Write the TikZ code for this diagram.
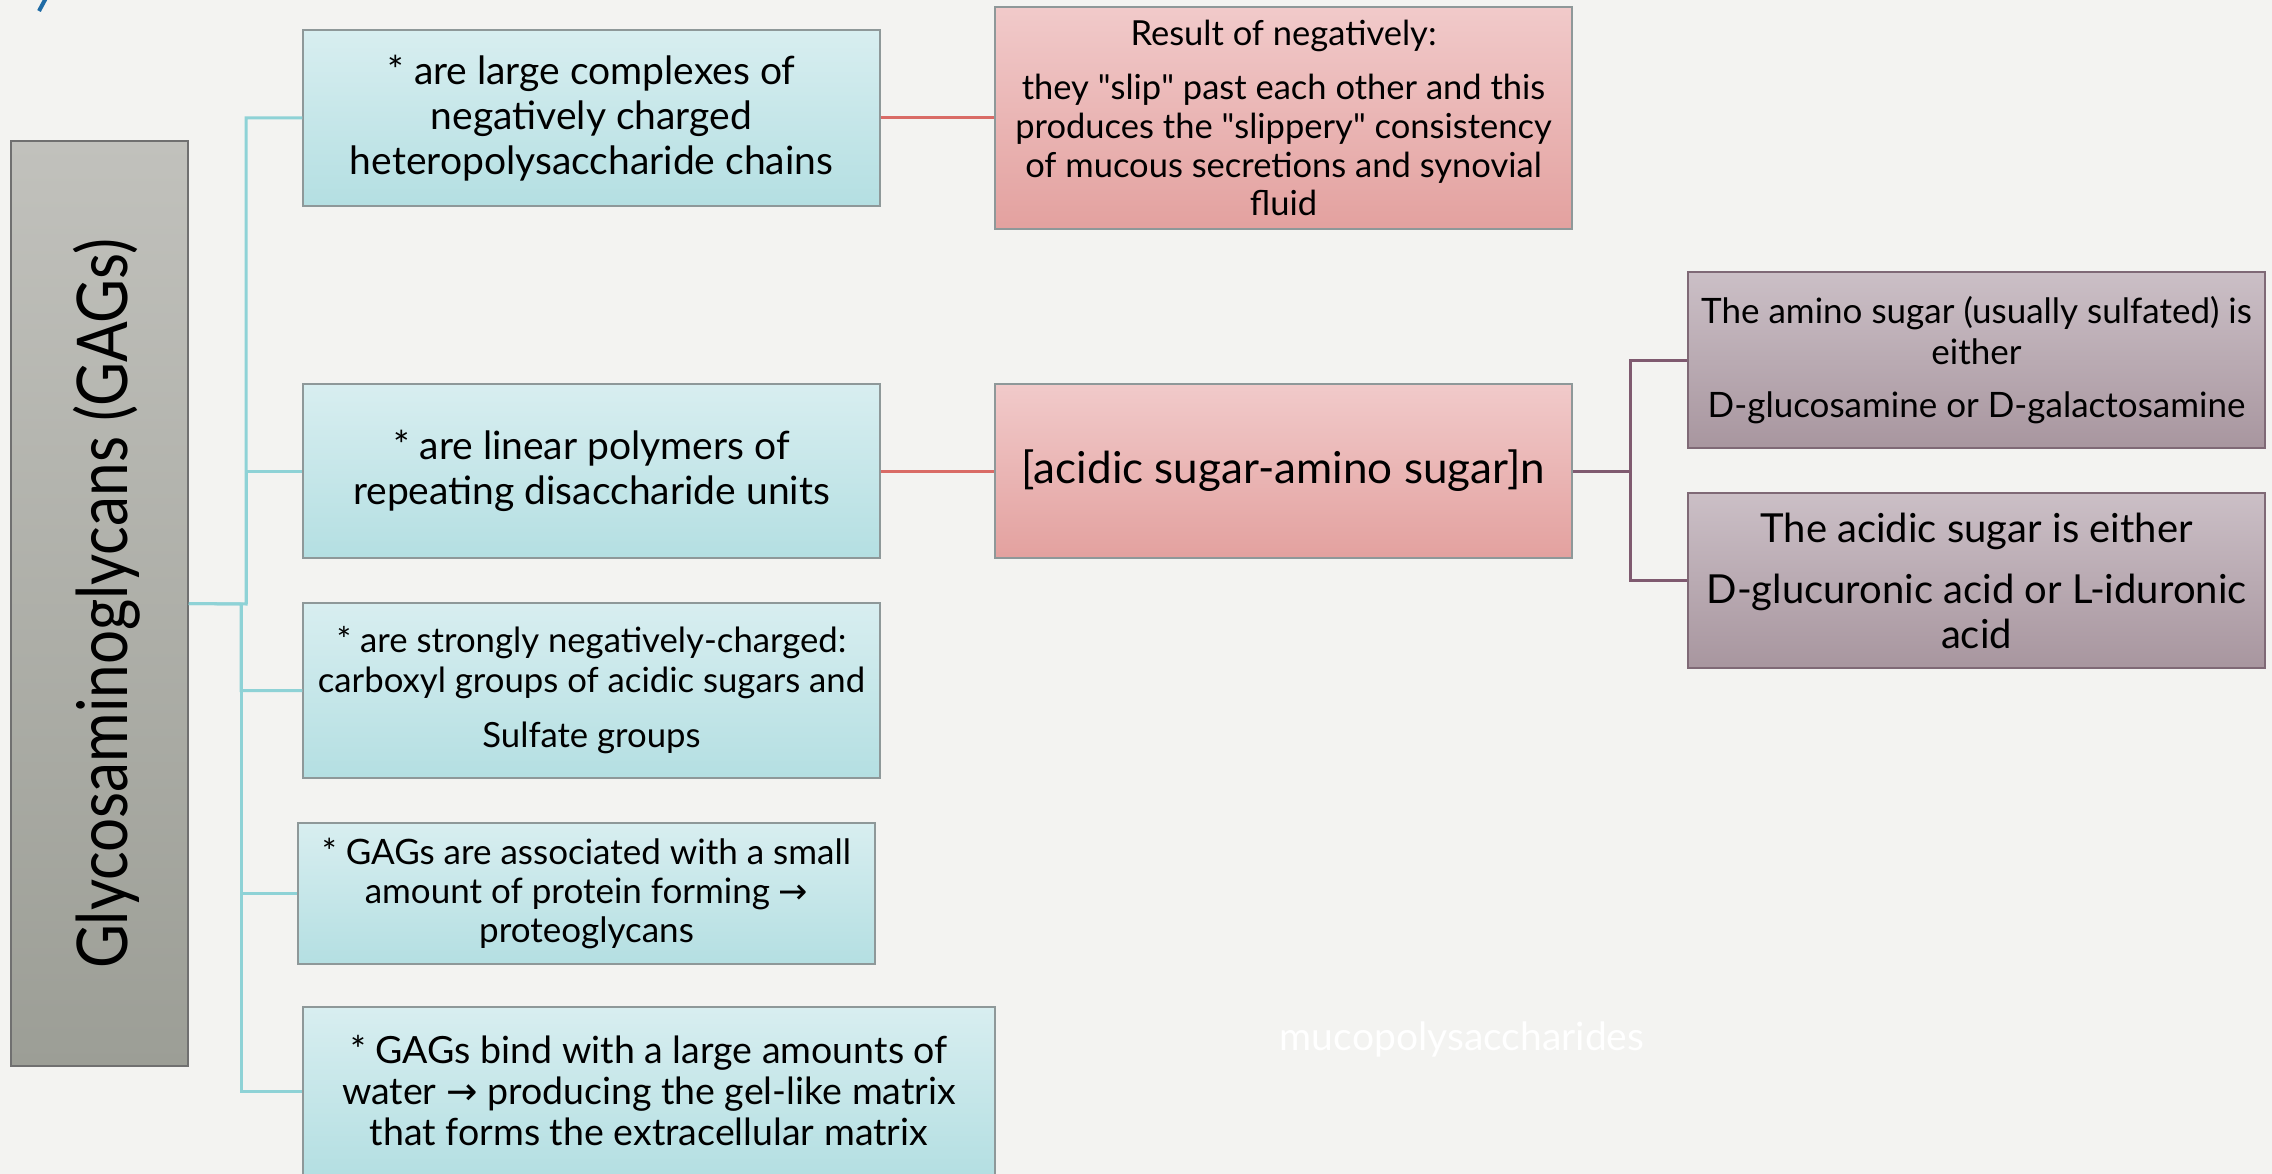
\documentclass[tikz,border=0pt]{standalone}
\usepackage{fontspec}
\setmainfont{Lato}
\newfontfamily\arrowf{DejaVu Sans}
\newcommand{\rarr}{{\arrowf →}}
\newcommand{\qq}{\textquotedbl}
\definecolor{bg}{HTML}{F3F3F1}
\definecolor{grayT}{HTML}{C1C1BC}
\definecolor{grayB}{HTML}{9C9E96}
\definecolor{grayD}{HTML}{707070}
\definecolor{blueT}{HTML}{D8EEF0}
\definecolor{blueB}{HTML}{B4DFE2}
\definecolor{pinkT}{HTML}{F1CACA}
\definecolor{pinkB}{HTML}{E3A19F}
\definecolor{purpT}{HTML}{CBBFC6}
\definecolor{purpB}{HTML}{A8969F}
\definecolor{bord}{HTML}{8E9899}
\definecolor{cyanline}{HTML}{8ED2D6}
\definecolor{redline}{HTML}{D96B66}
\definecolor{purpline}{HTML}{7F5A70}
\definecolor{titleblue}{HTML}{1F6BA5}
\tikzset{
  basebox/.style={draw=bord, line width=1.5pt, align=center, inner sep=0pt, text=black},
  bluebox/.style={basebox, top color=blueT, bottom color=blueB},
  pinkbox/.style={basebox, top color=pinkT, bottom color=pinkB},
  purpbox/.style={basebox, top color=purpT, bottom color=purpB, draw=purpline!60!gray},
  graybox/.style={basebox, draw=grayD, top color=grayT, bottom color=grayB},
  cline/.style={draw=cyanline, line width=3pt},
  rline/.style={draw=redline, line width=3pt},
  pline/.style={draw=purpline, line width=3pt},
}
\begin{document}
\begin{tikzpicture}[x=1pt,y=-1pt]
\useasboundingbox (0,0) rectangle (2272,1174);
\fill[bg] (0,0) rectangle (2272,1174);
\draw[titleblue, line width=4pt] (39,11) -- (46,-2);

% left title box
\node[graybox, minimum width=177pt, minimum height=925pt] (g) at (99.5,603.5) {};
\node[rotate=90, anchor=base, inner sep=0pt] (gt) at (127,604)
  {\scalebox{0.86}[1]{\fontsize{70}{80}\selectfont Glycosaminoglycans (GAGs)}};

% blue boxes
\node[bluebox, minimum width=577pt, minimum height=176pt, font=\fontsize{39}{45}\selectfont] (b1) at (591.5,118)
  {* are large complexes of\\negatively charged\\heteropolysaccharide chains};
\node[bluebox, minimum width=577pt, minimum height=174pt, font=\fontsize{39}{45}\selectfont] (b2) at (591.5,471)
  {* are linear polymers of\\repeating disaccharide units};
\node[bluebox, minimum width=577pt, minimum height=175pt, font=\fontsize{34.7}{40}\selectfont] (b3) at (591.5,690.5)
  {* are strongly negatively-charged:\\carboxyl groups of acidic sugars and\\[15pt]Sulfate groups};
\node[bluebox, minimum width=577pt, minimum height=141pt, font=\fontsize{35}{39}\selectfont] (b4) at (586.5,893.5)
  {* GAGs are associated with a small\\amount of protein forming \rarr\\proteoglycans};
\node[bluebox, minimum width=692pt, minimum height=168pt, font=\fontsize{37.5}{41}\selectfont] (b5) at (649,1091)
  {* GAGs bind with a large amounts of\\water \rarr{} producing the gel-like matrix\\that forms the extracellular matrix};

% pink boxes
\node[pinkbox, minimum width=577pt, minimum height=222pt, font=\fontsize{34.5}{38.6}\selectfont] (p1) at (1283.5,118)
  {Result of negatively:\\[16pt]they \qq slip\qq{} past each other and this\\produces the \qq slippery\qq{} consistency\\of mucous secretions and synovial\\fluid};
\node[pinkbox, minimum width=577pt, minimum height=174pt, font=\fontsize{44}{50}\selectfont] (p2) at (1283.5,471)
  {[acidic sugar-amino sugar]n};

% purple boxes
\node[purpbox, minimum width=577pt, minimum height=176pt, font=\fontsize{35}{41}\selectfont] (q1) at (1976.5,360)
  {The amino sugar (usually sulfated) is\\either\\[12pt]D-glucosamine or D-galactosamine};
\node[purpbox, minimum width=577pt, minimum height=175pt, font=\fontsize{40}{45}\selectfont] (q2) at (1976.5,580.5)
  {The acidic sugar is either\\[16pt]D-glucuronic acid or L-iduronic\\acid};

% watermark
\node[text=white, font=\fontsize{39}{45}\selectfont] (wm) at (1462,1039) {mucopolysaccharides};

% connectors
\coordinate (tU) at (246,604);
\coordinate (tL) at (241,604);
\draw[cline] (g.east) -- (tU) |- (b1.west);
\draw[cline] (tU) |- (b2.west);
\draw[cline] (g.east) -- (tL) |- (b3.west);
\draw[cline] (tL) |- (b4.west);
\draw[cline] (tL) |- (b5.west);

\draw[rline] (b1.east) -- (p1.west);
\draw[rline] (b2.east) -- (p2.west);

\coordinate (pj) at (1630,471);
\draw[pline] (p2.east) -- (pj) |- (q1.west);
\draw[pline] (pj) |- (q2.west);
\end{tikzpicture}
\end{document}
